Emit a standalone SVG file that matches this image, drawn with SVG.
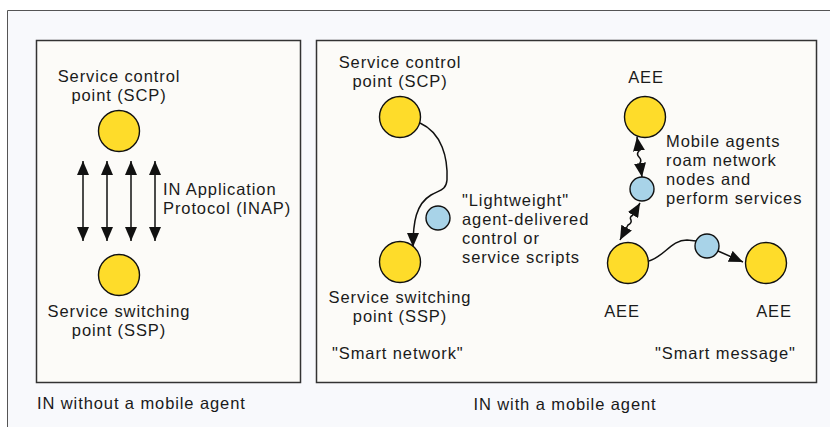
<svg xmlns="http://www.w3.org/2000/svg" width="830" height="427" viewBox="0 0 830 427">
<defs>
<style>
text{font-family:"Liberation Sans",Arial,sans-serif;font-size:16.5px;letter-spacing:0.9px;fill:#1a1a1a}
.panel{fill:#fcfbf8;stroke:#333;stroke-width:1.5}
.node{fill:#fedc2a;stroke:#111;stroke-width:1.4}
.agent{fill:#a8d3e8;stroke:#111;stroke-width:1.4}
.con{fill:none;stroke:#111;stroke-width:1.5}
.mid{text-anchor:middle}
</style>
<marker id="ah" viewBox="0 0 14 12" refX="14" refY="6" markerWidth="14" markerHeight="12" markerUnits="userSpaceOnUse" orient="auto-start-reverse">
<path d="M0,0 L14,6 L0,12 z" fill="#111"/>
</marker>
</defs>
<rect x="0" y="0" width="830" height="427" fill="#ffffff"/>
<path d="M7.5,427 V10.5 H830" fill="#f8f9fc" stroke="#555" stroke-width="1"/>
<rect x="8" y="11" width="822" height="416" fill="#f8f9fc"/>
<rect class="panel" x="36.5" y="40.5" width="264" height="342"/>
<rect class="panel" x="316.5" y="40.5" width="500" height="342"/>

<g id="connectors">
<path class="con" d="M83,161 V241" marker-start="url(#ah)" marker-end="url(#ah)"/>
<path class="con" d="M107,161 V241" marker-start="url(#ah)" marker-end="url(#ah)"/>
<path class="con" d="M131,161 V241" marker-start="url(#ah)" marker-end="url(#ah)"/>
<path class="con" d="M155,161 V241" marker-start="url(#ah)" marker-end="url(#ah)"/>
<path class="con" d="M420,123 C442,133 448,158 447,180 C446,191 439,190 431,195 C416,204 413,222 413,247" marker-end="url(#ah)"/>
<path class="con" d="M637,137 L639,151 Q636,154 639,157 Q642,160 640,163 L642,177" marker-start="url(#ah)" marker-end="url(#ah)"/>
<path class="con" d="M640,203 L633,215 Q629,217 631,220 Q632,223 628,225 L620,240" marker-start="url(#ah)" marker-end="url(#ah)"/>
<path class="con" d="M649,261 C665,256 671,240 687,240 L696,241"/>
<path class="con" d="M718,251 L743,262" marker-end="url(#ah)"/>
</g>

<g id="left-scp">
<circle class="node" cx="119" cy="131" r="20.5"/>
<text class="mid" x="119" y="82">Service control</text>
<text class="mid" x="119" y="101">point (SCP)</text>
</g>
<g id="left-ssp">
<circle class="node" cx="119" cy="275" r="20.5"/>
<text class="mid" x="119" y="317">Service switching</text>
<text class="mid" x="119" y="336">point (SSP)</text>
</g>
<g id="inap-label">
<text x="163" y="195">IN Application</text>
<text x="163" y="214">Protocol (INAP)</text>
</g>
<text x="37" y="409">IN without a mobile agent</text>

<g id="right-scp">
<circle class="node" cx="400" cy="117" r="20.5"/>
<text class="mid" x="400" y="68">Service control</text>
<text class="mid" x="400" y="87">point (SCP)</text>
</g>
<g id="right-ssp">
<circle class="node" cx="400" cy="262" r="20.5"/>
<text class="mid" x="400" y="303">Service switching</text>
<text class="mid" x="400" y="322">point (SSP)</text>
</g>
<g id="script-agent">
<circle class="agent" cx="438" cy="218" r="12"/>
<text x="462" y="206">"Lightweight"</text>
<text x="462" y="225">agent-delivered</text>
<text x="462" y="244">control or</text>
<text x="462" y="263">service scripts</text>
</g>
<text x="332" y="359">"Smart network"</text>

<g id="aee-top">
<circle class="node" cx="645" cy="117" r="20.5"/>
<text class="mid" x="646" y="83">AEE</text>
</g>
<g id="mobile-agent">
<circle class="agent" cx="642" cy="189" r="12"/>
<text x="666" y="147">Mobile agents</text>
<text x="666" y="166">roam network</text>
<text x="666" y="185">nodes and</text>
<text x="666" y="204">perform services</text>
</g>
<g id="aee-left">
<circle class="node" cx="628" cy="263" r="20.5"/>
<text class="mid" x="622" y="317">AEE</text>
</g>
<g id="message-agent">
<circle class="agent" cx="707" cy="246" r="12"/>
</g>
<g id="aee-right">
<circle class="node" cx="766" cy="263" r="20.5"/>
<text class="mid" x="774" y="317">AEE</text>
</g>
<text x="655" y="359">"Smart message"</text>
<text class="mid" x="565" y="410">IN with a mobile agent</text>
</svg>
